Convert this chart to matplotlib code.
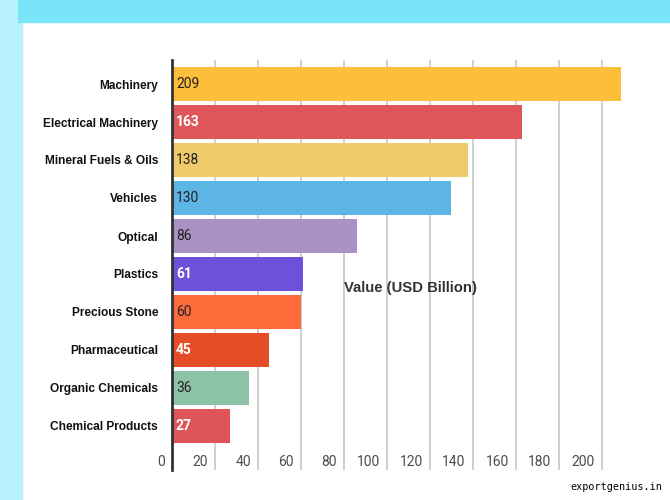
import matplotlib.pyplot as plt
from matplotlib.patches import Rectangle
from matplotlib.transforms import offset_copy, blended_transform_factory

categories = ["Machinery", "Electrical Machinery", "Mineral Fuels & Oils", "Vehicles",
              "Optical", "Plastics", "Precious Stone", "Pharmaceutical",
              "Organic Chemicals", "Chemical Products"]
values = [209, 163, 138, 130, 86, 61, 60, 45, 36, 27]
colors = ["#FDBF3A", "#E0555A", "#EFCA6A", "#5DB5E5", "#AB90C6",
          "#6C52DA", "#FD6B3A", "#E44D26", "#8DC3A7", "#DE5457"]
white_label = [False, True, False, False, False, True, False, True, False, True]
x_ticks = [0, 20, 40, 60, 80, 100, 120, 140, 160, 180, 200]

fig = plt.figure(figsize=(6.7, 5), dpi=100)
fig.patch.set_facecolor("white")

# background bands
fig.add_artist(Rectangle((0, 0), 22 / 670, 1, transform=fig.transFigure,
                         color="#B8F3FD", zorder=0))
fig.add_artist(Rectangle((18 / 670, 1 - 22 / 500), 1, 22 / 500,
                         transform=fig.transFigure, color="#7AE5F8", zorder=0))

ax = fig.add_axes([172 / 670, 30 / 500, 494 / 670, 410 / 500])
ax.set_facecolor("none")

y = list(range(len(categories)))
ax.barh(y, values, height=0.9, color=colors, zorder=2)

ax.set_xlim(0, 230)
ax.set_ylim(9 + 44 / 38, -24 / 38)

# grid
ax.set_xticks(x_ticks[1:])
ax.tick_params(axis="x", length=0, labelbottom=False)
ax.grid(axis="x", color="#cccccc", linewidth=1.3, zorder=1)
for s in ["top", "right", "bottom"]:
    ax.spines[s].set_visible(False)
ax.spines["left"].set_color("#333333")
ax.spines["left"].set_linewidth(2)
ax.spines["left"].set_zorder(3)

# y labels
ax.set_yticks(y)
ax.set_yticklabels(categories, fontfamily="Liberation Sans", fontweight="bold",
                   fontsize=8.6, color="#111111")
ax.tick_params(axis="y", length=0, pad=10)

# x tick labels, drawn inside the axes just left of each gridline
trans = blended_transform_factory(ax.transData, ax.transAxes)
trans = offset_copy(trans, fig=fig, x=-7, y=0, units="dots")
for t in x_ticks:
    ax.text(t, 0.02, str(t), transform=trans, ha="right", va="center",
            fontfamily="Roboto", fontsize=10, color="#4d4d4d")

# value labels
vtrans = offset_copy(ax.transData, fig=fig, x=4, y=0, units="dots")
for i, v in enumerate(values):
    if white_label[i]:
        ax.text(0, i, str(v), transform=vtrans, ha="left", va="center",
                fontfamily="Roboto", fontweight="bold", fontsize=10,
                color="white", zorder=4)
    else:
        ax.text(0, i, str(v), transform=vtrans, ha="left", va="center",
                fontfamily="Roboto", fontsize=10, color="#222222", zorder=4)

fig.text(410 / 670, 1 - 288 / 500, "Value (USD Billion)", ha="center", va="center",
         fontfamily="Liberation Sans", fontweight="bold", fontsize=10.7,
         color="#333333")

fig.text(616 / 670, 1 - 487 / 500, "exportgenius.in", ha="center", va="center",
         fontfamily="DejaVu Sans Mono", fontsize=7.3, color="black")

fig.savefig("out.png", dpi=100)
